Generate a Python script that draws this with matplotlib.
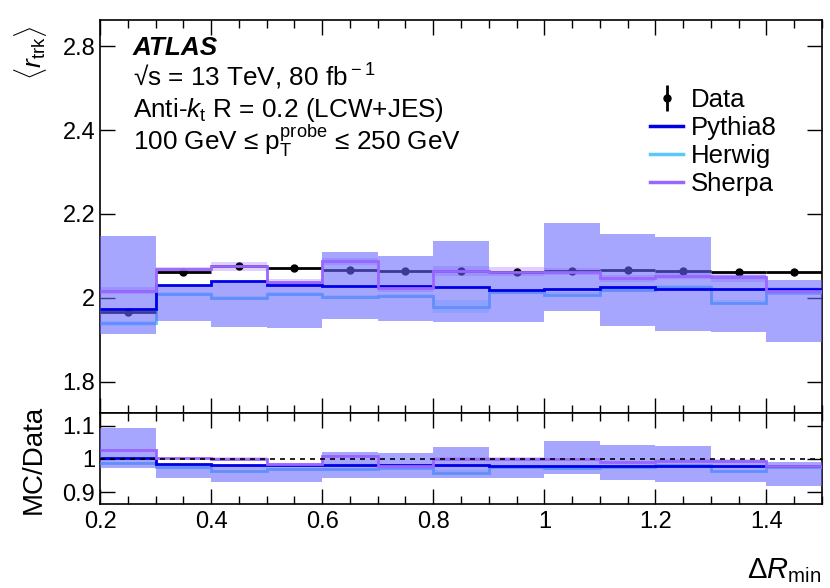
import numpy as np
import matplotlib
matplotlib.use("Agg")
from matplotlib import pyplot as plt
from matplotlib.ticker import MultipleLocator, FixedLocator, FixedFormatter

plt.rcParams['font.family'] = ['Liberation Sans', 'DejaVu Sans']
plt.rcParams['mathtext.fontset'] = 'custom'
plt.rcParams['mathtext.rm'] = 'Liberation Sans'
plt.rcParams['mathtext.it'] = 'Liberation Sans:italic'
plt.rcParams['mathtext.bf'] = 'Liberation Sans:bold'

# bins in Delta R_min
edges = [0.2, 0.3, 0.4, 0.5, 0.6, 0.7, 0.8, 0.9, 1.0, 1.1, 1.2, 1.3, 1.4, 1.5]

data = [1.966, 2.061, 2.075, 2.071, 2.067, 2.064, 2.064, 2.063, 2.064, 2.067, 2.064, 2.063, 2.063]
data_err = [0.003, 0.002, 0.002, 0.002, 0.002, 0.002, 0.002, 0.002, 0.002, 0.002, 0.002, 0.002, 0.002]
pythia = [1.974, 2.031, 2.040, 2.031, 2.029, 2.029, 2.025, 2.019, 2.022, 2.025, 2.022, 2.022, 2.022]
herwig = [1.940, 2.010, 1.999, 2.009, 2.003, 2.005, 1.979, 2.015, 2.008, 2.019, 2.027, 1.989, 2.014]
sherpa = [2.017, 2.068, 2.075, 2.037, 2.087, 2.023, 2.065, 2.063, 2.063, 2.047, 2.053, 2.051, 2.017]
herwig_stat = [0.006, 0.005, 0.005, 0.005, 0.005, 0.005, 0.015, 0.006, 0.006, 0.005, 0.005, 0.006, 0.006]
sherpa_stat = [0.008, 0.006, 0.010, 0.007, 0.008, 0.008, 0.012, 0.011, 0.008, 0.008, 0.008, 0.012, 0.010]
band_lo = [1.914, 1.944, 1.930, 1.928, 1.949, 1.944, 1.943, 1.942, 1.970, 1.934, 1.921, 1.920, 1.894]
band_hi = [2.148, 2.031, 2.040, 2.037, 2.109, 2.101, 2.136, 2.058, 2.178, 2.152, 2.146, 2.055, 2.043]

c_py = '#0000e6'
c_hw = '#5ac8fa'
c_sh = '#9966ff'
c_band = '#6666ff'

edges = np.array(edges)
centers = 0.5 * (edges[1:] + edges[:-1])
widths = np.diff(edges)
data = np.array(data)

fig = plt.figure(figsize=(8.3, 5.88), dpi=100)
ax = fig.add_axes([0.1205, 0.2976, 0.8699, 0.6684])
rx = fig.add_axes([0.1205, 0.1429, 0.8699, 0.1547])


def draw(a, norm):
    py = np.array(pythia) / norm
    hw = np.array(herwig) / norm
    sh = np.array(sherpa) / norm
    hs = np.array(herwig_stat) / norm
    ss = np.array(sherpa_stat) / norm
    lo = np.array(band_lo) / norm
    hi = np.array(band_hi) / norm
    a.bar(edges[:-1], 2 * hs, width=widths, bottom=hw - hs, align='edge',
          color=c_hw, alpha=0.3, lw=0, zorder=2)
    a.bar(edges[:-1], 2 * ss, width=widths, bottom=sh - ss, align='edge',
          color=c_sh, alpha=0.3, lw=0, zorder=2)
    a.stairs(hw, edges, color=c_hw, lw=2, baseline=None, zorder=3)
    a.bar(edges[:-1], hi - lo, width=widths, bottom=lo, align='edge',
          color=c_band, alpha=0.58, lw=0, zorder=4)
    a.stairs(py, edges, color=c_py, lw=2, baseline=None, zorder=5)
    a.stairs(sh, edges, color=c_sh, lw=2, baseline=None, zorder=5)


draw(ax, 1.0)
ax.errorbar(centers, data, xerr=widths / 2, yerr=data_err, fmt='o', color='k',
            ms=5, elinewidth=2, capsize=0, zorder=3.5)

draw(rx, data)
rx.axhline(1.0, color='k', ls=(0, (3, 3)), lw=1.2, zorder=6)

for a in (ax, rx):
    a.set_xlim(0.2, 1.5)
    a.xaxis.set_major_locator(MultipleLocator(0.2))
    a.xaxis.set_minor_locator(MultipleLocator(0.05))
    a.tick_params(which='both', direction='in', top=True, right=True,
                  labelsize=17, width=1)
    a.tick_params(which='major', length=11)
    a.tick_params(which='minor', length=6)
    for s in a.spines.values():
        s.set_linewidth(1.2)

ax.set_ylim(1.726, 2.662)
ax.yaxis.set_major_locator(FixedLocator([1.8, 2.0, 2.2, 2.4, 2.6]))
ax.yaxis.set_major_formatter(FixedFormatter(['1.8', '2', '2.2', '2.4', '2.8']))
ax.tick_params(axis='y', which='minor', left=False, right=False)
ax.tick_params(axis='x', labelbottom=False)

rx.set_ylim(0.864, 1.139)
rx.yaxis.set_major_locator(FixedLocator([0.9, 1.0, 1.1]))
rx.yaxis.set_major_formatter(FixedFormatter(['0.9', '1', '1.1']))
rx.tick_params(axis='y', which='minor', left=False, right=False)
rx.xaxis.set_major_locator(FixedLocator([0.2, 0.4, 0.6, 0.8, 1.0, 1.2, 1.4]))
rx.xaxis.set_major_formatter(FixedFormatter(['0.2', '0.4', '0.6', '0.8', '1', '1.2', '1.4']))
rx.tick_params(axis='x', pad=5)

# labels
fig.text(30 / 830, 1 - 26 / 588, r'$\langle r_{\rm trk}\rangle$', rotation=90,
         ha='center', va='top', fontsize=19)
fig.text(34 / 830, 1 - 459 / 588, 'MC/Data', rotation=90, ha='center',
         va='center', fontsize=20)
fig.text(821 / 830, 1 - 571 / 588, r'$\Delta R_{\rm min}$', ha='right',
         va='center', fontsize=21)

tx = 133 / 830
fs = 18.8
fig.text(tx, 1 - 48 / 588, 'ATLAS', fontsize=fs, fontweight='bold',
         fontstyle='italic', va='center')
fig.text(tx, 1 - 77 / 588, '√s = 13 TeV, 80 fb$^{\\rm -1}$', fontsize=fs, va='center')
fig.text(tx, 1 - 110 / 588, r'Anti-$k_{\rm t}$ R = 0.2 (LCW+JES)', fontsize=fs, va='center')
fig.text(tx, 1 - 141 / 588, r'100 GeV ≤ $\mathrm{p}_{\rm T}^{\rm probe}$ ≤ 250 GeV',
         fontsize=fs, va='center')

# legend
h_data = ax.errorbar([], [], yerr=[], fmt='o', color='k', ms=5, elinewidth=2)
h_py, = ax.plot([], [], color=c_py, lw=2.5)
h_hw, = ax.plot([], [], color=c_hw, lw=2.5)
h_sh, = ax.plot([], [], color=c_sh, lw=2.5)
fig.legend([h_data, h_py, h_hw, h_sh], ['Data', 'Pythia8', 'Herwig', 'Sherpa'],
           loc='upper left', bbox_to_anchor=(650 / 830, 1 - 88 / 588),
           frameon=False, fontsize=18.5, handlelength=1.3, handletextpad=0.3,
           labelspacing=0.15, borderpad=0, borderaxespad=0)

fig.savefig('out.png', dpi=100)
